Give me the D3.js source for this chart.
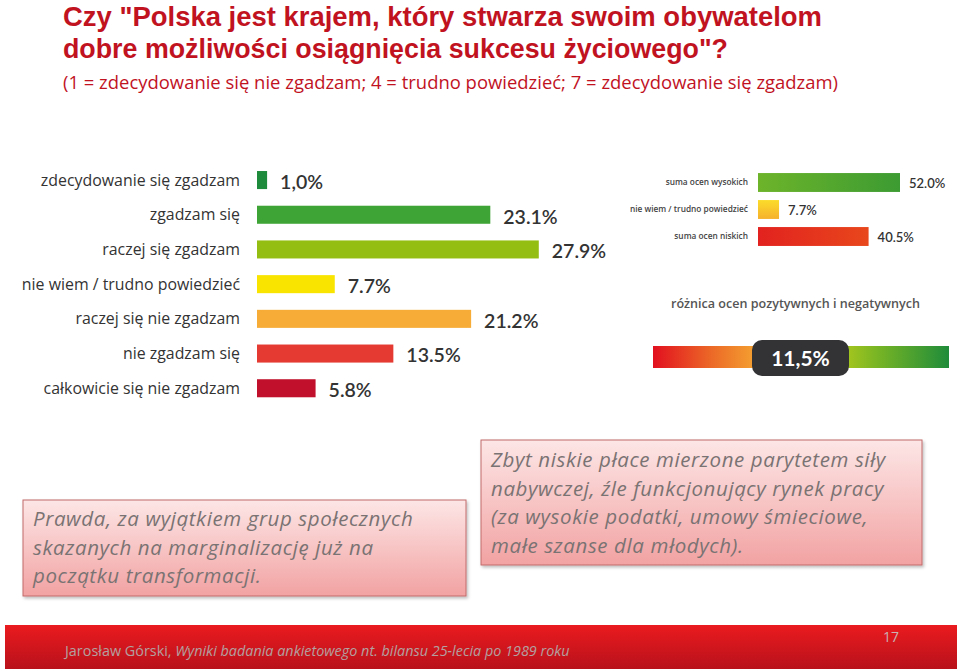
<!DOCTYPE html>
<html><head><meta charset="utf-8">
<script src="https://cdn.jsdelivr.net/npm/d3@7"></script>
<style>body{margin:0;background:#fff}svg{display:block}</style>
</head><body>
<script>
const categories = ["zdecydowanie się zgadzam","zgadzam się","raczej się zgadzam","nie wiem / trudno powiedzieć","raczej się nie zgadzam","nie zgadzam się","całkowicie się nie zgadzam"];
const values = [1.0, 23.1, 27.9, 7.7, 21.2, 13.5, 5.8];
const valueLabels = ["1,0%","23.1%","27.9%","7.7%","21.2%","13.5%","5.8%"];
const barColors = ["#1d8b3b","#3fa436","#95be13","#f9e400","#f6ac36","#e43a31","#c0102b"];
const summaryCategories = ["suma ocen wysokich","nie wiem / trudno powiedzieć","suma ocen niskich"];
const summaryValues = [52.0, 7.7, 40.5];
const summaryLabels = ["52.0%","7.7%","40.5%"];
const differenceLabel = "11,5%";
const titleLines = ["Czy \"Polska jest krajem, który stwarza swoim obywatelom","dobre możliwości osiągnięcia sukcesu życiowego\"?"];
const subtitle = "(1 = zdecydowanie się nie zgadzam; 4 = trudno powiedzieć; 7 = zdecydowanie się zgadzam)";
const leftBoxLines = ["Prawda, za wyjątkiem grup społecznych","skazanych na marginalizację już na","początku transformacji."];
const rightBoxLines = ["Zbyt niskie płace mierzone parytetem siły","nabywczej, źle funkcjonujący rynek pracy","(za wysokie podatki, umowy śmieciowe,","małe szanse dla młodych)."];
const footerAuthor = "Jarosław Górski, ";
const footerTitle = "Wyniki badania ankietowego nt. bilansu 25-lecia po 1989 roku";
const pageNumber = "17";

const W = 960, H = 671;
const svg = d3.select("body").append("svg").attr("width", W).attr("height", H);
const defs = svg.append("defs");

function linGrad(id, stops, vertical) {
  const g = defs.append("linearGradient").attr("id", id)
    .attr("x1", 0).attr("y1", 0).attr("x2", vertical ? 0 : 1).attr("y2", vertical ? 1 : 0);
  stops.forEach(s => g.append("stop").attr("offset", s[0]).attr("stop-color", s[1]));
}
linGrad("gHigh", [[0,"#6db42a"],[1,"#3c9b32"]]);
linGrad("gMid", [[0,"#fbdc2a"],[1,"#f6b12c"]], true);
linGrad("gLow", [[0,"#e2221f"],[1,"#e8471c"]]);
linGrad("gDiff", [[0,"#e2101f"],[0.2,"#ec6a27"],[0.38,"#f6ad33"],[0.62,"#b3cb1c"],[0.75,"#7bb624"],[1,"#1f8c3a"]]);
linGrad("gBox", [[0,"#fde6e6"],[1,"#f2a2a2"]], true);
linGrad("gFoot", [[0,"#ea1b1f"],[1,"#b8111b"]], true);
const flt = defs.append("filter").attr("id","sh").attr("x","-5%").attr("y","-5%").attr("width","115%").attr("height","120%");
flt.append("feDropShadow").attr("dx",1.5).attr("dy",2).attr("stdDeviation",1.5).attr("flood-color","#000").attr("flood-opacity",0.25);

// Title
const titleY = [25.5, 58];
const titleLen = [759, 665];
titleLines.forEach((t,i) => svg.append("text").attr("x",63).attr("y",titleY[i])
  .attr("font-family","'Liberation Sans', Arial, sans-serif").attr("font-weight",700).attr("font-size",27)
  .attr("fill","#c1121f").attr("textLength", titleLen[i]).attr("lengthAdjust","spacingAndGlyphs").text(t));
svg.append("text").attr("x",63).attr("y",89).attr("font-family","'Open Sans', sans-serif")
  .attr("font-size",19).attr("fill","#c1121f").attr("textLength",775).attr("lengthAdjust","spacingAndGlyphs").text(subtitle);

// Main bar chart
const x = d3.scaleLinear().domain([0, 30]).range([0, 303]);
const x0 = 257;
const y = d3.scaleBand().domain(categories).range([162.7, 405.6]).paddingInner(0.48).paddingOuter(0.24);
const main = svg.append("g");
main.selectAll("rect").data(values).join("rect")
  .attr("x", x0).attr("y", (d,i) => y(categories[i])).attr("width", d => x(d)).attr("height", y.bandwidth())
  .attr("fill", (d,i) => barColors[i]);
main.selectAll("text.cat").data(categories).join("text").attr("class","cat")
  .attr("x", 240).attr("y", d => y(d) + y.bandwidth()/2).attr("dy","0.35em").attr("text-anchor","end")
  .attr("font-family","'Open Sans', sans-serif").attr("font-size",15.9).attr("fill","#333").text(d => d);
main.selectAll("text.val").data(values).join("text").attr("class","val")
  .attr("x", d => x0 + x(d) + 13).attr("y", (d,i) => y(categories[i]) + y.bandwidth()/2 + 2).attr("dy","0.35em")
  .attr("font-family","Lato, sans-serif").attr("font-weight",600).attr("font-size",19.5).attr("fill","#333")
  .text((d,i) => valueLabels[i]);

// Summary chart
const x2 = d3.scaleLinear().domain([0, 52]).range([0, 142]);
const sx0 = 758;
const y2 = d3.scaleBand().domain(summaryCategories).range([169, 250]).paddingInner(0.3).paddingOuter(0.15);
const sumFills = ["url(#gHigh)","url(#gMid)","url(#gLow)"];
const sg = svg.append("g");
sg.selectAll("rect").data(summaryValues).join("rect")
  .attr("x", sx0).attr("y",(d,i)=>y2(summaryCategories[i])).attr("width", d => x2(d)).attr("height", y2.bandwidth())
  .attr("fill",(d,i)=>sumFills[i]);
sg.selectAll("text.cat").data(summaryCategories).join("text").attr("class","cat")
  .attr("x", 748).attr("y", d => y2(d) + y2.bandwidth()/2).attr("dy","0.35em").attr("text-anchor","end")
  .attr("font-family","'Open Sans', sans-serif").attr("font-weight",600).attr("font-size",8.3).attr("fill","#444").text(d => d);
sg.selectAll("text.val").data(summaryValues).join("text").attr("class","val")
  .attr("x", d => sx0 + x2(d) + 9).attr("y",(d,i)=>y2(summaryCategories[i]) + y2.bandwidth()/2 + 1).attr("dy","0.35em")
  .attr("font-family","Lato, sans-serif").attr("font-weight",600).attr("font-size",13).attr("fill","#333")
  .text((d,i)=>summaryLabels[i]);

// Difference
svg.append("text").attr("x",671).attr("y",308).attr("font-family","'Open Sans', sans-serif").attr("font-weight",600)
  .attr("font-size",13).attr("fill","#555").attr("textLength",249).attr("lengthAdjust","spacingAndGlyphs")
  .text("różnica ocen pozytywnych i negatywnych");
svg.append("rect").attr("x",653).attr("y",346).attr("width",296).attr("height",22).attr("fill","url(#gDiff)");
svg.append("rect").attr("x",752).attr("y",340).attr("width",97).attr("height",36).attr("rx",10).attr("fill","#333336");
svg.append("text").attr("x",800.5).attr("y",359).attr("dy","0.35em").attr("text-anchor","middle")
  .attr("font-family","Lato, sans-serif").attr("font-weight",700).attr("font-size",21).attr("fill","#fff").text(differenceLabel);

// Text boxes
function box(x, yy, w, h, lines, ty) {
  svg.append("rect").attr("x",x).attr("y",yy).attr("width",w).attr("height",h)
    .attr("fill","url(#gBox)").attr("stroke","#c26a6a").attr("stroke-width",1).attr("filter","url(#sh)");
  lines.forEach((l,i) => svg.append("text").attr("x", x+10).attr("y", ty + i*28.5)
    .attr("font-family","'Open Sans', sans-serif").attr("font-style","italic").attr("font-size",20.5)
    .attr("letter-spacing",0.6).attr("fill","#7a7373").text(l));
}
box(23, 500, 443, 96, leftBoxLines, 526);
box(481, 440, 441, 125, rightBoxLines, 467);

// Footer
svg.append("rect").attr("x",5).attr("y",625).attr("width",952).attr("height",44).attr("fill","url(#gFoot)");
const ft = svg.append("text").attr("x",65).attr("y",656).attr("font-family","'Open Sans', sans-serif")
  .attr("font-size",14.4).attr("fill","#b3a0a0");
ft.append("tspan").text(footerAuthor);
ft.append("tspan").attr("font-style","italic").text(footerTitle);
svg.append("text").attr("x",883).attr("y",642).attr("font-family","'Open Sans', sans-serif")
  .attr("font-size",14).attr("fill","#c9b3b3").text(pageNumber);
</script>
</body></html>
